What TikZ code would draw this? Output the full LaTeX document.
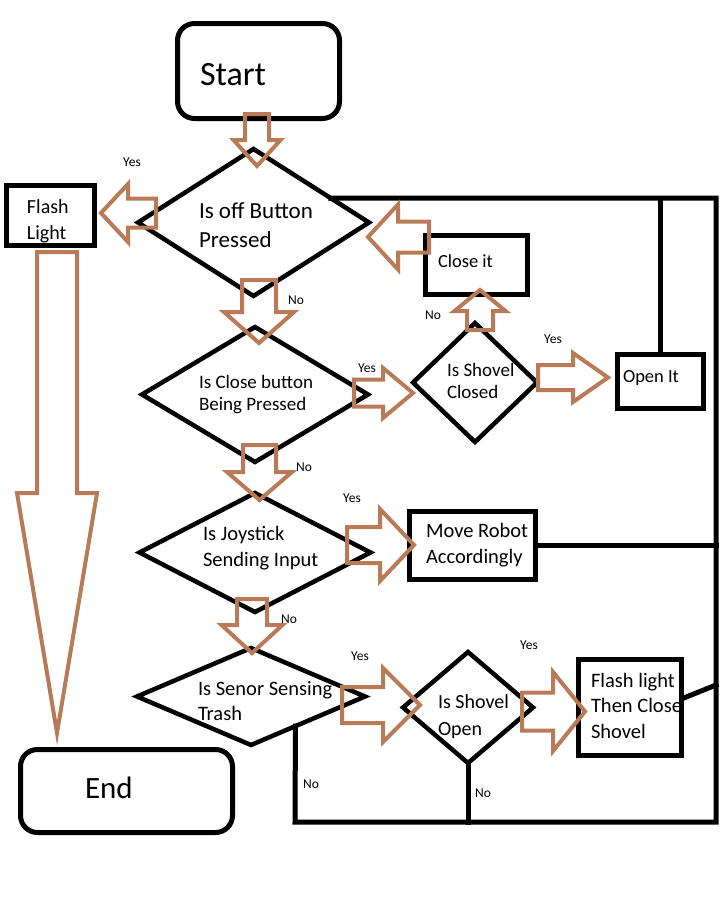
\documentclass[tikz,border=0pt]{standalone}
\usepackage{fontspec}
\setmainfont{Carlito}
\usetikzlibrary{shapes.geometric,calc}
\definecolor{paintbrown}{RGB}{185,122,87}

% Outlined block arrow: #1 tail point, #2 direction (deg), #3 length,
% #4 shaft half-width, #5 head half-width, #6 head length
\newcommand{\blockarrow}[6]{%
  \draw[brownarrow,shift={#1},rotate=#2]
    (0,-#4) -- (#3-#6,-#4) -- (#3-#6,-#5) -- (#3,0) -- (#3-#6,#5)
    -- (#3-#6,#4) -- (0,#4) -- cycle;}

\newcommand{\fs}[2]{\fontsize{#1}{#2}\selectfont}

\begin{document}
\begin{tikzpicture}[x=1pt,y=-1pt,
  box/.style={draw,line width=5pt,inner sep=0pt,outer sep=0pt},
  roundbox/.style={box,rounded corners=17pt},
  decision/.style={diamond,draw,line width=4.5pt,inner sep=0pt,outer sep=0pt},
  wire/.style={line width=5pt,line cap=rect},
  brownarrow/.style={draw=paintbrown,line width=4pt,line join=miter},
  txt/.style={anchor=base west,align=left,inner sep=0pt,outer sep=0pt},
  lbl/.style={anchor=base west,inner sep=0pt,font=\fs{13.5}{16}}]

\useasboundingbox (0,0) rectangle (720,900);
\fill[white] (0,0) rectangle (720,900);

% terminals and process boxes
\node[roundbox,minimum width=162pt,minimum height=95pt] (start) at (258.5,71) {};
\node[box,minimum width=88pt,minimum height=60pt] (flash) at (50.5,215.5) {};
\node[box,minimum width=102pt,minimum height=59pt] (closeit) at (476.5,265) {};
\node[box,minimum width=86pt,minimum height=54pt] (openit) at (660.5,381.5) {};
\node[box,minimum width=126pt,minimum height=68pt] (moverobot) at (472.5,545.5) {};
\node[box,minimum width=103pt,minimum height=96pt] (flashclose) at (630,707.5) {};
\node[roundbox,minimum width=212pt,minimum height=83pt] (end) at (126.5,791) {};

% decisions
\node[decision,minimum width=231pt,minimum height=147pt] (d1) at (253.5,222.5) {};
\node[decision,minimum width=226pt,minimum height=135pt] (d2) at (255,394.5) {};
\node[decision,minimum width=231pt,minimum height=119pt] (d3) at (255,552.5) {};
\node[decision,minimum width=228pt,minimum height=97pt] (d4) at (251,696.5) {};
\node[decision,minimum width=124pt,minimum height=119pt] (d5) at (475,382.5) {};
\node[decision,minimum width=130pt,minimum height=111pt] (d6) at (468,707.5) {};

% texts (anchored at the baseline of the last line)
\node[txt,font=\fs{34}{40}] (starttxt) at (200,85) {Start};
\node[txt,font=\fs{20}{26}] (flashtxt) at (27,239) {Flash\\Light};
\node[txt,font=\fs{23}{29}] (d1txt) at (199,247) {Is off Button\\Pressed};
\node[txt,font=\fs{18.5}{22}] (closetxt) at (438,267) {Close it};
\node[txt,font=\fs{19}{22}] (d2txt) at (199,410) {Is Close button\\Being Pressed};
\node[txt,font=\fs{19}{22}] (d5txt) at (447,398) {Is Shovel\\Closed};
\node[txt,font=\fs{18.5}{22}] (opentxt) at (623,382) {Open It};
\node[txt,font=\fs{20.5}{26}] (d3txt) at (203,566) {Is Joystick\\Sending Input};
\node[txt,font=\fs{20.5}{26}] (movetxt) at (426,563) {Move Robot\\Accordingly};
\node[txt,font=\fs{20.5}{25}] (d4txt) at (198,720) {Is Senor Sensing\\Trash};
\node[txt,font=\fs{20}{27}] (d6txt) at (438,735) {Is Shovel\\Open};
\node[txt,font=\fs{20.5}{25.5}] (fctxt) at (591,738) {Flash light\\Then Close\\Shovel};
\node[txt,font=\fs{31}{36}] (endtxt) at (85,798) {End};

% branch labels
\node[lbl] (y1) at (123,166) {Yes};
\node[lbl] (n1) at (288,304) {No};
\node[lbl] (y2) at (358,372) {Yes};
\node[lbl] (n2) at (296,471) {No};
\node[lbl] (n5) at (425,319) {No};
\node[lbl] (y5) at (544,343) {Yes};
\node[lbl] (y3) at (343,502) {Yes};
\node[lbl] (n3) at (281,623) {No};
\node[lbl] (y4) at (351,660) {Yes};
\node[lbl] (y6) at (520,649) {Yes};
\node[lbl] (n4) at (303,788) {No};
\node[lbl] (n6) at (475,797) {No};

% return wires
\coordinate (tr) at (716,198);
\coordinate (br) at (716,822);
\coordinate (bl) at (295,822);
\coordinate (fcjoin) at (716,685);
\draw[wire] ($(d1.north)!0.67!(d1.east)$) -- (tr) -- (br) -- (bl)
  -- ($(d4.east)!0.61!(d4.south)$);
\draw[wire] (openit.north) -- (openit.north |- tr);
\draw[wire] (moverobot.east) -- (moverobot.east -| tr);
\draw[wire] ($(flashclose.east)+(1,-9)$) -- (fcjoin);
\draw[wire] (d6.south) -- (d6.south |- bl);

% flow arrows
\blockarrow{(257,114)}{-90}{52}{12}{23.5}{26}     % start -> d1
\blockarrow{(156,213)}{180}{55}{14.5}{29}{27}     % d1 -> flash
\blockarrow{(259,280)}{-90}{63}{17}{35}{31}       % d1 -> d2
\blockarrow{(429,237)}{180}{61}{15.5}{32.5}{30}   % close it -> d1
\blockarrow{(354,393)}{0}{59}{13.5}{25}{30}       % d2 -> d5
\blockarrow{(480,330)}{90}{40}{13}{25.5}{21}      % d5 -> close it
\blockarrow{(538,377.5)}{0}{70}{12.5}{24.5}{35}   % d5 -> open it
\blockarrow{(259.5,445)}{-90}{55}{16.5}{32.5}{28} % d2 -> d3
\blockarrow{(347,545)}{0}{67}{18}{36}{34}         % d3 -> move robot
\blockarrow{(252,599)}{-90}{54}{15}{30.5}{28}     % d3 -> d4
\blockarrow{(342,705)}{0}{78}{18}{37}{37}         % d4 -> d6
\blockarrow{(522,711.5)}{0}{63}{19}{39.5}{32}     % d6 -> flash+close
\blockarrow{(57,252)}{-90}{481}{20}{40}{240}      % flash -> end
\end{tikzpicture}
\end{document}
